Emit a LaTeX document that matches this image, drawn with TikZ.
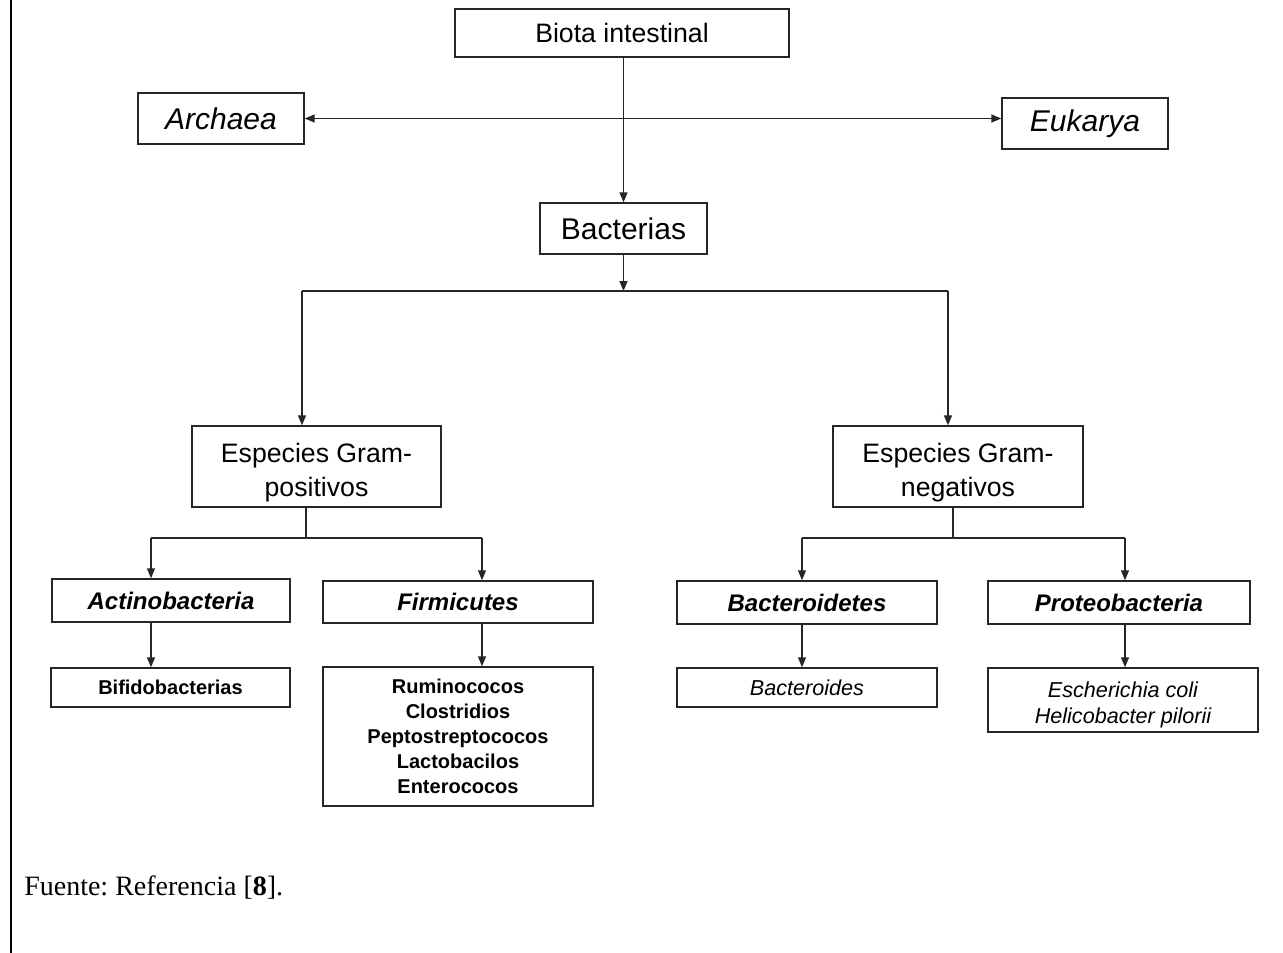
\documentclass[tikz,border=0pt]{standalone}
\usepackage{fontspec}
\setmainfont{Liberation Serif}
\setsansfont{Liberation Sans}
\usetikzlibrary{arrows.meta}
\frenchspacing
\begin{document}
\begin{tikzpicture}[x=0.75pt,y=-0.75pt,
  box/.style={draw=black!85, line width=1.05pt, inner sep=0pt, align=center, font=\sffamily},
  conn/.style={draw=black!85, line width=1.05pt},
  arr/.style={conn, -{Triangle[length=7.5pt,width=6pt]}},
  darr/.style={conn, {Triangle[length=7.5pt,width=6pt]}-{Triangle[length=7.5pt,width=6pt]}},
  big/.style={font=\sffamily\fontsize{22.5pt}{27pt}\selectfont},
  mid/.style={font=\sffamily\fontsize{20pt}{25.5pt}\selectfont},
  phy/.style={font=\sffamily\bfseries\itshape\fontsize{18pt}{21pt}\selectfont},
  leafb/.style={font=\sffamily\bfseries\fontsize{15pt}{18.75pt}\selectfont},
  leafi/.style={font=\sffamily\itshape\fontsize{16.2pt}{19.5pt}\selectfont}
]
\useasboundingbox (0,0) rectangle (1283,953);
\draw[line width=2pt] (11,0) -- (11,953);

% top level
\node[box, mid, minimum width=250.5pt, minimum height=36pt] (biota) at (622,33) {Biota intestinal};
\node[box, big, minimum width=124.5pt, minimum height=38.25pt] (archaea) at (221,118.5) {\itshape Archaea};
\node[box, big, minimum width=124.5pt, minimum height=38.25pt] (eukarya) at (1085,123.5) {\itshape Eukarya};
\node[box, big, minimum width=125.25pt, minimum height=38.25pt] (bacterias) at (623.5,228.5) {Bacterias};

% gram level
\node[box, mid, minimum width=186.75pt, minimum height=60.75pt] (gpos) at (316.5,466.5) {\rule{0pt}{24pt}Especies Gram-\\positivos};
\node[box, mid, minimum width=187.5pt, minimum height=60.75pt] (gneg) at (958,466.5) {\rule{0pt}{24pt}Especies Gram-\\negativos};

% phyla
\node[box, phy, minimum width=178.5pt, minimum height=32.25pt] (actino) at (171,600.5) {Actinobacteria};
\node[box, phy, minimum width=202.5pt, minimum height=31.5pt] (firm) at (458,602) {Firmicutes};
\node[box, phy, minimum width=195pt, minimum height=32.25pt] (bactd) at (807,602.5) {Bacteroidetes};
\node[box, phy, minimum width=196.5pt, minimum height=32.25pt] (proteo) at (1119,602.5) {Proteobacteria};

% leaves
\node[box, leafb, minimum width=179.25pt, minimum height=29.25pt] (bifido) at (170.5,687.5) {Bifidobacterias};
\node[box, leafb, minimum width=202.5pt, minimum height=104.25pt] (rumino) at (458,736.5) {Ruminococos\\Clostridios\\Peptostreptococos\\Lactobacilos\\Enterococos};
\node[box, leafi, minimum width=195pt, minimum height=29.25pt] (bacteroides) at (807,687.5) {Bacteroides};
\node[box, leafi, minimum width=202.5pt, minimum height=48pt] (escher) at (1123,700) {\rule{0pt}{19pt}Escherichia coli\\Helicobacter pilorii};

% caption
\node[anchor=base west, inner sep=0pt, font=\rmfamily\fontsize{21pt}{25pt}\selectfont] (fuente) at (24,895) {Fuente: Referencia [\textbf{8}].};

% junction coordinates
\coordinate (j0) at (623.5,291);
\coordinate (jL) at (302,291);
\coordinate (jR) at (948,291);
\coordinate (sL) at (306,538);
\coordinate (sR) at (953,538);
\coordinate (aL) at (151,538);
\coordinate (fL) at (482,538);
\coordinate (bR) at (802,538);
\coordinate (pR) at (1125,538);

% connectors
\draw[arr] (biota.south -| bacterias.north) -- (bacterias.north);
\draw[darr] (archaea.east) -- (archaea.east -| eukarya.west);
\draw[arr] (bacterias.south) -- (j0);
\draw[conn] (jL) -- (jR);
\draw[arr] (jL) -- (jL |- gpos.north);
\draw[arr] (jR) -- (jR |- gneg.north);

\draw[conn] (sL |- gpos.south) -- (sL);
\draw[conn] (aL) -- (fL);
\draw[arr] (aL) -- (aL |- actino.north);
\draw[arr] (fL) -- (fL |- firm.north);

\draw[conn] (sR |- gneg.south) -- (sR);
\draw[conn] (bR) -- (pR);
\draw[arr] (bR) -- (bR |- bactd.north);
\draw[arr] (pR) -- (pR |- proteo.north);

\draw[arr] (aL |- actino.south) -- (aL |- bifido.north);
\draw[arr] (fL |- firm.south) -- (fL |- rumino.north);
\draw[arr] (bR |- bactd.south) -- (bR |- bacteroides.north);
\draw[arr] (pR |- proteo.south) -- (pR |- escher.north);
\end{tikzpicture}
\end{document}
